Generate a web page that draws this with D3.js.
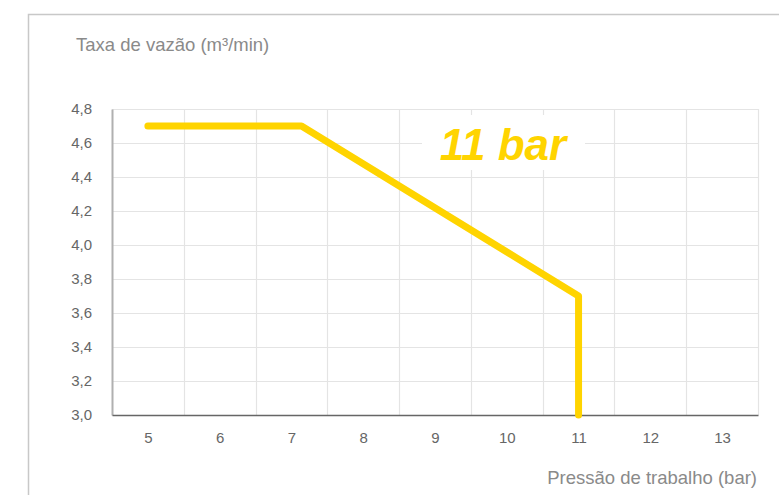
<!DOCTYPE html>
<html><head><meta charset="utf-8">
<script src="https://cdn.jsdelivr.net/npm/d3@7"></script>
<style>html,body{margin:0;padding:0;background:#fff;}svg{display:block;font-family:"Liberation Sans",Arial,Helvetica,sans-serif;}</style>
</head><body>
<script>
const xTicks = [5,6,7,8,9,10,11,12,13];
const yTicks = [3.0,3.2,3.4,3.6,3.8,4.0,4.2,4.4,4.6,4.8];
const pressure = [5, 7.14, 11, 11];
const flow = [4.7, 4.7, 3.7, 3.0];
const yTitle = "Taxa de vazão (m³/min)";
const xTitle = "Pressão de trabalho (bar)";
const seriesLabel = "11 bar";

(function(){
const W = 779, H = 495;
const svg = d3.select("body").append("svg").attr("width", W).attr("height", H);

// frame
svg.append("rect").attr("x",28.5).attr("y",14.5).attr("width",900).attr("height",700)
  .attr("fill","none").attr("stroke","#c8c8c8").attr("stroke-width",1.5);

const pL = 112, pR = 758, pT = 109, pB = 415;
const x = d3.scaleLinear().domain([4.5,13.5]).range([pL,pR]);
const y = d3.scaleLinear().domain([3.0,4.8]).range([pB,pT]);

// gridlines
const grid = svg.append("g");
grid.selectAll(".h").data(yTicks.slice(1)).join("line")
  .attr("x1",pL).attr("x2",pR).attr("y1",d=>Math.round(y(d))+0.5).attr("y2",d=>Math.round(y(d))+0.5)
  .attr("stroke","#e4e4e4").attr("stroke-width",1.2);
const vlines = d3.range(4.5,13.6,1);
grid.selectAll(".v").data(vlines.slice(1)).join("line")
  .attr("y1",pT).attr("y2",pB).attr("x1",d=>Math.round(x(d))+0.5).attr("x2",d=>Math.round(x(d))+0.5)
  .attr("stroke","#e4e4e4").attr("stroke-width",1.2);

// y axis
const yAxis = svg.append("g").attr("transform",`translate(${pL},0)`)
  .call(d3.axisLeft(y).tickValues(yTicks).tickSize(0).tickPadding(20).tickFormat(d=>d3.format(".1f")(d).replace(".",",")));
yAxis.select(".domain").attr("stroke","#b0b0b0").attr("stroke-width",2);
yAxis.selectAll("text").attr("fill","#666").attr("font-size",15).attr("font-family","Liberation Sans, Arial, sans-serif");

// x axis
const xAxis = svg.append("g").attr("transform",`translate(0,${pB})`)
  .call(d3.axisBottom(x).tickValues(xTicks).tickSize(0).tickPadding(17).tickFormat(d3.format("d")));
xAxis.select(".domain").attr("stroke","#666").attr("stroke-width",1.5);
xAxis.selectAll("text").attr("fill","#666").attr("font-size",15).attr("font-family","Liberation Sans, Arial, sans-serif");

// titles
svg.append("text").attr("x",76).attr("y",51).attr("fill","#8a8a8a").attr("font-size",18.5).text(yTitle);
svg.append("text").attr("x",757).attr("y",484).attr("text-anchor","end").attr("fill","#8a8a8a").attr("font-size",18.5).text(xTitle);

// line
const pts = pressure.map((p,i)=>[p,flow[i]]);
svg.append("path").datum(pts)
  .attr("d", d3.line().x(d=>x(d[0])).y(d=>y(d[1])))
  .attr("fill","none").attr("stroke","#ffd400").attr("stroke-width",7)
  .attr("stroke-linecap","round").attr("stroke-linejoin","round");

// label with white box
svg.append("rect").attr("x",422).attr("y",115).attr("width",163).attr("height",55).attr("fill","#fff");
svg.append("text").attr("x",503).attr("y",160).attr("text-anchor","middle")
  .attr("fill","#ffd400").attr("font-size",44).attr("font-weight","bold").attr("font-style","italic")
  .text(seriesLabel);
})();
</script>
</body></html>
